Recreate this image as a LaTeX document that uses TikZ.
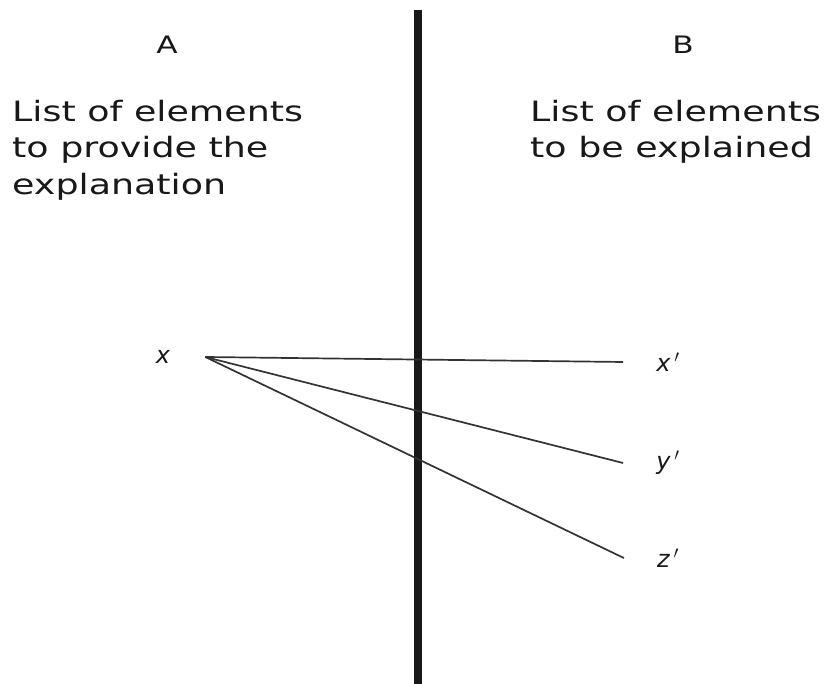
\documentclass[tikz,border=0pt]{standalone}
\usepackage{fontspec}
\setmainfont{DejaVu Sans}
\newfontfamily\listfont{DejaVu Sans}[FakeStretch=1.3]
\usetikzlibrary{positioning}
\definecolor{ink}{HTML}{181818}
\definecolor{thread}{HTML}{333333}

\begin{document}
\begin{tikzpicture}[x=1pt, y=1pt,
          tag/.style={text=ink, inner sep=0pt, font=\listfont\fontsize{24}{28}\selectfont},
          list/.style={text=ink, inner sep=0pt, align=left, font=\listfont\fontsize{28}{36.5}\selectfont},
          elem/.style={text=ink, inner sep=0pt, font=\fontsize{24}{28}\selectfont\itshape},
          link/.style={thread, line width=1.7pt}]
        \useasboundingbox (0,0) rectangle (829,684);
        \draw[ink, line width=8pt] (418,674) -- (418,0);
        \node[tag] (A) at (167,639) {A};
        \node[tag] (B) at (683,639) {B};
        \node[list, anchor=north west] (explain) at (12,584) {List of elements\\to provide the\\explanation};
        \node[list, anchor=north west] (explained) at (530,584) {List of elements\\to be explained};
        \node[elem] (x) at (163,327) {x};
        \node[elem] (xp) at (668,322) {x\,$'$};
        \node[elem] (yp) at (668,221) {y\,$'$};
        \node[elem] (zp) at (668,126) {z\,$'$};
        \coordinate[right=35pt of x.east] (fan);
        \foreach \e in {xp,yp,zp} {
          \coordinate[left=33pt of \e] (\e-end);
          \draw[link] (fan) -- (\e-end);
        }
      \end{tikzpicture}
\end{document}
